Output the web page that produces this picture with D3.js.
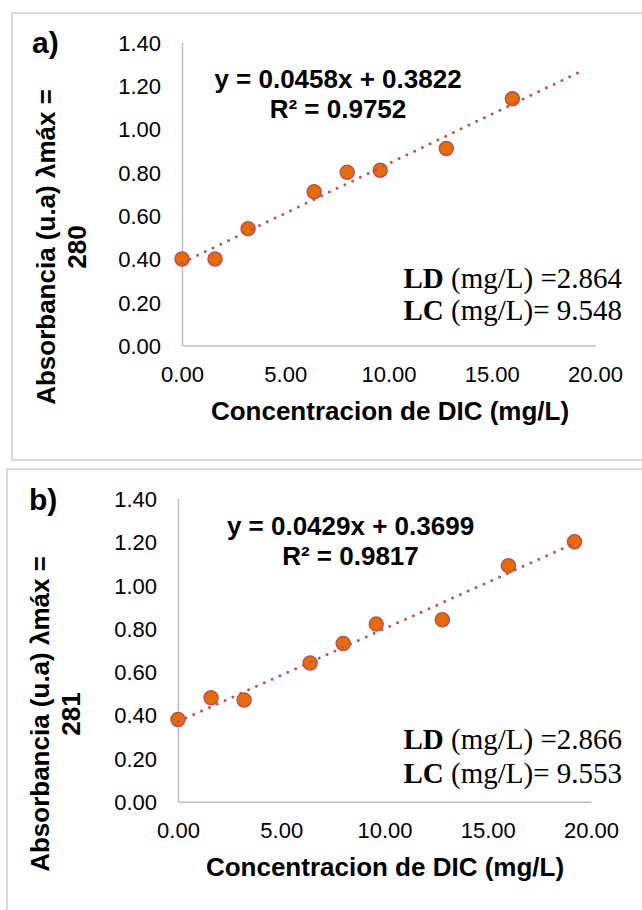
<!DOCTYPE html>
<html>
<head>
<meta charset="utf-8">
<script src="https://cdn.jsdelivr.net/npm/d3@7"></script>
<style>
  html, body { margin: 0; padding: 0; background: #fff; }
  svg { display: block; }
</style>
</head>
<body>
<svg id="chart" width="642" height="910"></svg>
<script>
// ---- Data ----
const concA = [0, 1.6, 3.2, 6.4, 8.0, 9.6, 12.8, 16.0];
const absA  = [0.40, 0.40, 0.54, 0.71, 0.80, 0.81, 0.91, 1.14];
const concB = [0, 1.6, 3.2, 6.4, 8.0, 9.6, 12.8, 16.0, 19.2];
const absB  = [0.38, 0.48, 0.47, 0.64, 0.73, 0.82, 0.84, 1.09, 1.20];
const slopes = [0.0458, 0.0429];
const intercepts = [0.3822, 0.3699];
const trendEnd = [19.2, 19.2];
const eqLabels = ["y = 0.0458x + 0.3822", "y = 0.0429x + 0.3699"];
const r2Labels = ["R² = 0.9752", "R² = 0.9817"];
const ldValues = ["2.864", "2.866"];
const lcValues = ["9.548", "9.553"];
const panelLabels = ["a)", "b)"];
const lambdaLabels = ["280", "281"];
const xTicks = [0, 5, 10, 15, 20];
const yTicks = [0, 0.2, 0.4, 0.6, 0.8, 1.0, 1.2, 1.4];
const xTitle = "Concentracion de DIC (mg/L)";
const yTitle = "Absorbancia (u.a) λmáx =";

// ---- Layout ----
const panels = [
  { x: concA, y: absA, dx: 0, dy: 0, border: [12, 13, 447],
    xr: [182, 595], yr: [345.5, 42.5],
    lab: [32, 53], eq: [338, 88, 118], ld: [622, 288, 320],
    yt: [55, 86, 247], xt: [390, 420], ytickX: 161 },
  { x: concB, y: absB, dx: -4, dy: 456, border: [7, 469, 460],
    xr: [178, 591], yr: [801.7, 498.5],
    lab: [29, 510], eq: [350.5, 535, 565], ld: [622, 749, 783],
    yt: [49, 80, 714], xt: [385, 876], ytickX: 157 }
];

const svg = d3.select("#chart");
const sans = "'Liberation Sans', Arial, sans-serif";
const serif = "'Liberation Serif', 'Times New Roman', serif";

panels.forEach((p, i) => {
  const g = svg.append("g");
  // border
  g.append("rect")
    .attr("x", p.border[0]).attr("y", p.border[1])
    .attr("width", 700).attr("height", p.border[2])
    .attr("fill", "none").attr("stroke", "#D9D9D9").attr("stroke-width", 2);

  const x = d3.scaleLinear().domain([0, 20]).range(p.xr);
  const y = d3.scaleLinear().domain([0, 1.4]).range(p.yr);

  // axes
  const xAxis = d3.axisBottom(x).tickValues(xTicks).tickSize(0).tickPadding(0)
    .tickFormat(d3.format(".2f"));
  const yAxis = d3.axisLeft(y).tickValues(yTicks).tickSize(0).tickPadding(0)
    .tickFormat(d3.format(".2f"));

  const gx = g.append("g").attr("transform", `translate(0,${p.yr[0]})`).call(xAxis);
  gx.select(".domain").attr("stroke", "#BFBFBF").attr("stroke-width", 1.5);
  gx.selectAll("text").attr("font-family", sans).attr("font-size", 22)
    .attr("fill", "#000").attr("dy", null).attr("y", 36.5);

  const gy = g.append("g").attr("transform", `translate(${p.xr[0]},0)`).call(yAxis);
  gy.select(".domain").attr("stroke", "#BFBFBF").attr("stroke-width", 1.5);
  gy.selectAll("text").attr("font-family", sans).attr("font-size", 22)
    .attr("fill", "#000").attr("x", p.ytickX - p.xr[0]).attr("dy", "0.36em");

  // points
  g.append("g").selectAll("circle")
    .data(p.x.map((v, k) => [v, p.y[k]]))
    .join("circle")
    .attr("cx", d => x(d[0])).attr("cy", d => y(d[1]))
    .attr("r", 7)
    .attr("fill", "#E46C0A").attr("stroke", "#C0504D").attr("stroke-width", 1.5);

  // trendline (dotted)
  const tx = [0, trendEnd[i]];
  g.append("line")
    .attr("x1", x(tx[0])).attr("y1", y(intercepts[i] + slopes[i] * tx[0]))
    .attr("x2", x(tx[1])).attr("y2", y(intercepts[i] + slopes[i] * tx[1]))
    .attr("stroke", "#C0504D").attr("stroke-width", 3)
    .attr("stroke-linecap", "round").attr("stroke-dasharray", "0 8.6");

  // panel label
  g.append("text").attr("x", p.lab[0]).attr("y", p.lab[1])
    .attr("font-family", sans).attr("font-weight", "bold").attr("font-size", 30)
    .text(panelLabels[i]);

  // equation
  g.append("text").attr("x", p.eq[0]).attr("y", p.eq[1]).attr("text-anchor", "middle")
    .attr("font-family", sans).attr("font-weight", "bold").attr("font-size", 26)
    .text(eqLabels[i]);
  g.append("text").attr("x", p.eq[0]).attr("y", p.eq[2]).attr("text-anchor", "middle")
    .attr("font-family", sans).attr("font-weight", "bold").attr("font-size", 26)
    .text(r2Labels[i]);

  // LD / LC
  const ld = g.append("text").attr("x", p.ld[0]).attr("y", p.ld[1]).attr("text-anchor", "end")
    .attr("font-family", serif).attr("font-size", 29);
  ld.append("tspan").attr("font-weight", "bold").text("LD");
  ld.append("tspan").text(" (mg/L) =" + ldValues[i]);
  const lc = g.append("text").attr("x", p.ld[0]).attr("y", p.ld[2]).attr("text-anchor", "end")
    .attr("font-family", serif).attr("font-size", 29);
  lc.append("tspan").attr("font-weight", "bold").text("LC");
  lc.append("tspan").text(" (mg/L)= " + lcValues[i]);

  // axis titles
  g.append("text").attr("x", p.xt[0]).attr("y", p.xt[1]).attr("text-anchor", "middle")
    .attr("font-family", sans).attr("font-weight", "bold").attr("font-size", 26)
    .text(xTitle);
  g.append("text")
    .attr("transform", `translate(${p.yt[0]},${p.yt[2]}) rotate(-90)`)
    .attr("text-anchor", "middle")
    .attr("font-family", sans).attr("font-weight", "bold").attr("font-size", 26)
    .text(yTitle);
  g.append("text")
    .attr("transform", `translate(${p.yt[1]},${p.yt[2]}) rotate(-90)`)
    .attr("text-anchor", "middle")
    .attr("font-family", sans).attr("font-weight", "bold").attr("font-size", 26)
    .text(lambdaLabels[i]);
});
</script>
</body>
</html>
